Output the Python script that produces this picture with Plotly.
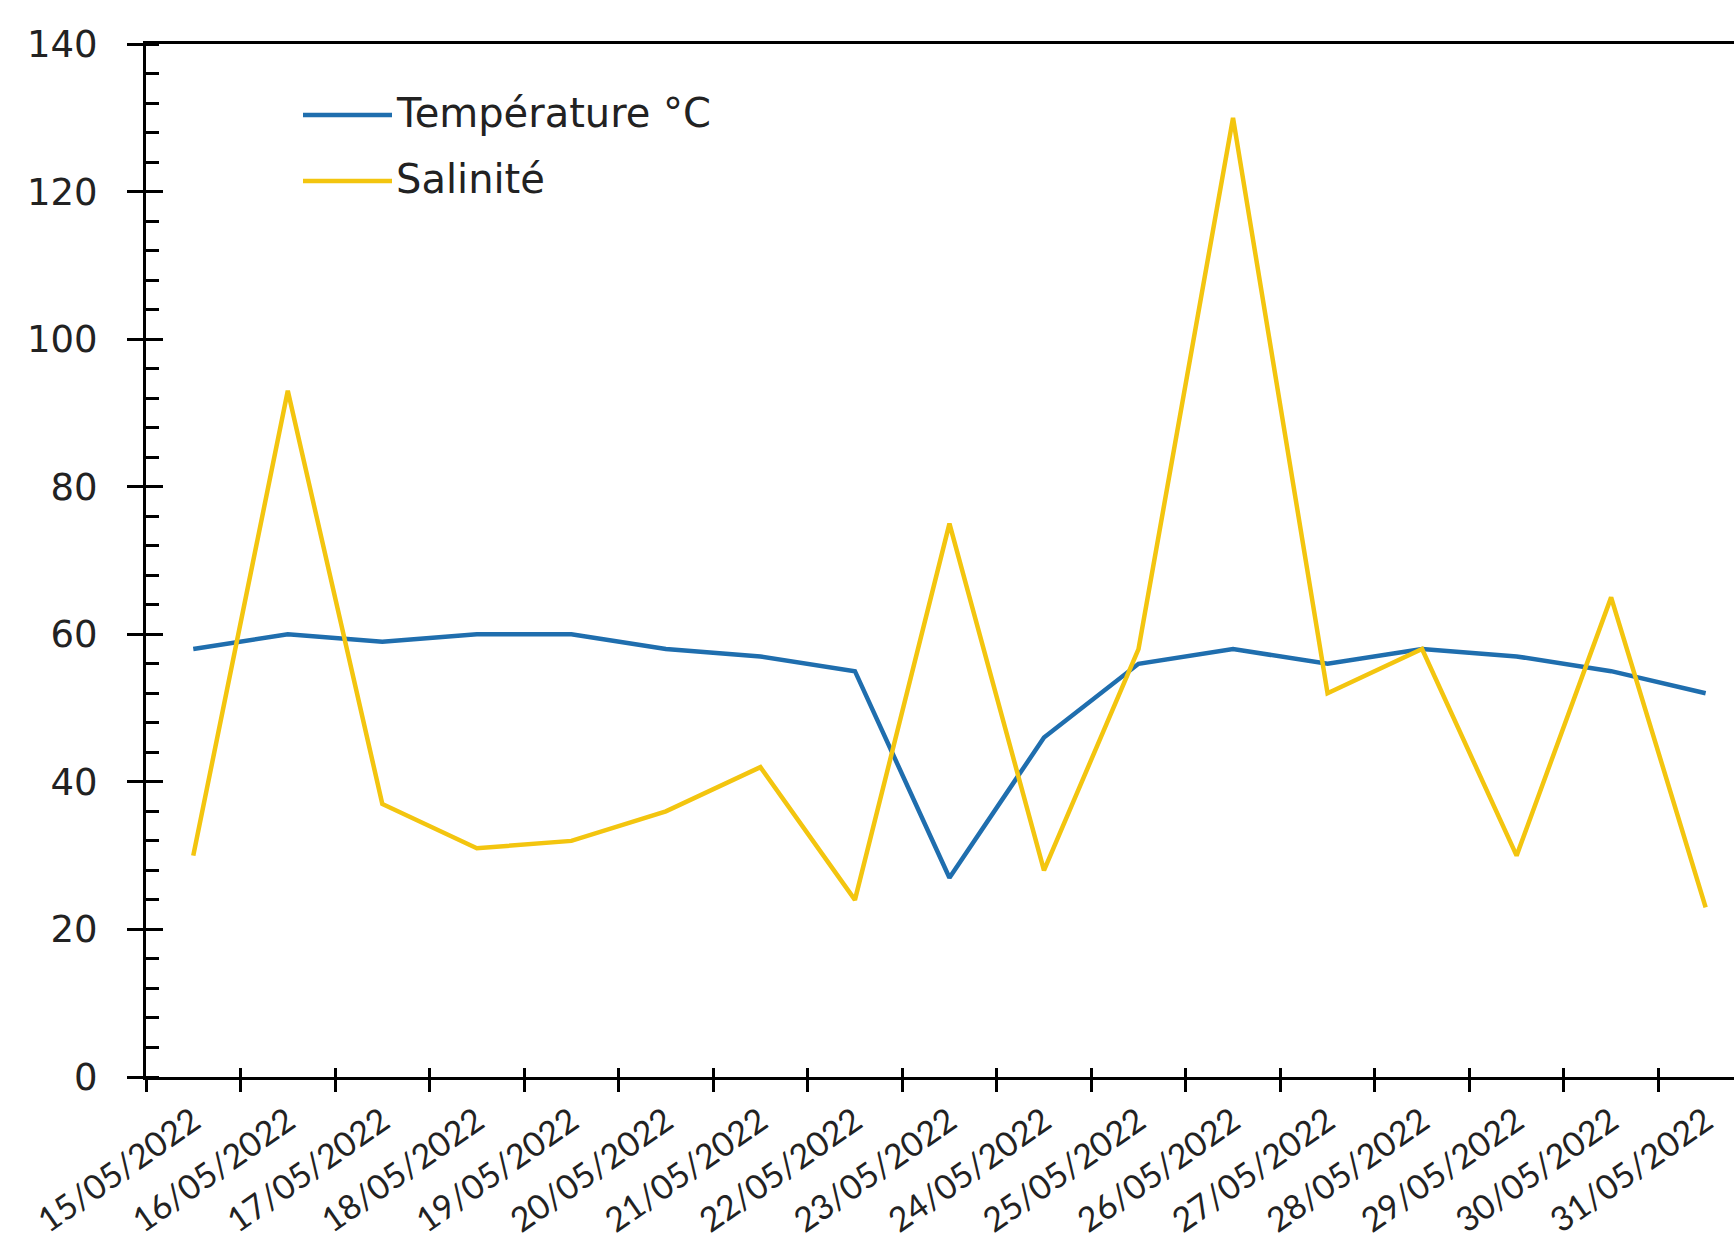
import plotly.graph_objects as go

# Daily readings, 15 to 31 May 2022
dates = ["15/05/2022", "16/05/2022", "17/05/2022", "18/05/2022", "19/05/2022",
         "20/05/2022", "21/05/2022", "22/05/2022", "23/05/2022", "24/05/2022",
         "25/05/2022", "26/05/2022", "27/05/2022", "28/05/2022", "29/05/2022",
         "30/05/2022", "31/05/2022"]
temperature = [58, 60, 59, 60, 60, 58, 57, 55, 27, 46, 56, 58, 56, 58, 57, 55, 52]
salinite = [30, 93, 37, 31, 32, 36, 42, 24, 75, 28, 58, 130, 52, 58, 30, 65, 23]

series_names = ["Température °C", "Salinité"]
series_colors = ["#1f6eae", "#f3c50f"]

W, H = 1734, 1241
ML, MR, MT, MB = 146, 0, 44, 164
X_RANGE = [-0.5, 16.3]
Y_RANGE = [0, 140]


def paper_x(px):
    return (px - ML) / (W - ML - MR)


def paper_y(py):
    return (H - MB - py) / (H - MT - MB)


fig = go.Figure()
for name, vals, col in zip(series_names, [temperature, salinite], series_colors):
    fig.add_trace(go.Scatter(x=dates, y=vals, mode="lines", name=name,
                             line=dict(color=col, width=4.5), showlegend=False))

# empty trace carrying the overlay axes (inner halves of the crossing ticks)
fig.add_trace(go.Scatter(x=[], y=[], xaxis="x2", yaxis="y2", showlegend=False,
                         hoverinfo="skip"))

fig.update_layout(
    width=W, height=H,
    margin=dict(l=ML, r=MR, t=MT, b=MB),
    paper_bgcolor="white", plot_bgcolor="white",
    xaxis=dict(type="category", categoryorder="array", categoryarray=dates,
               range=X_RANGE, tickson="boundaries", ticks="outside",
               ticklen=12, tickwidth=3, tickcolor="black",
               showline=True, linewidth=3, linecolor="black", mirror=True,
               showgrid=False, zeroline=False, tickangle=-35,
               ticklabelstandoff=8,
               tickfont=dict(family="Lato", size=34, color="#222222")),
    yaxis=dict(range=Y_RANGE, dtick=20, ticks="outside", ticklen=16,
               tickwidth=3, tickcolor="black", showline=True, linewidth=3,
               linecolor="black", showgrid=False, zeroline=False,
               ticklabelstandoff=22,
               minor=dict(dtick=4, ticks="inside", ticklen=13, tickwidth=3,
                          tickcolor="black", showgrid=False),
               tickfont=dict(family="DejaVu Sans", size=37, color="#222222")),
    xaxis2=dict(overlaying="x", anchor="y2", side="bottom", range=X_RANGE,
                tickmode="linear", tick0=-0.5, dtick=1, ticks="inside",
                ticklen=9, tickwidth=3, tickcolor="black",
                showticklabels=False, showline=False, showgrid=False,
                zeroline=False),
    yaxis2=dict(overlaying="y", anchor="x2", side="left", range=Y_RANGE,
                tickmode="linear", tick0=0, dtick=20, ticks="inside",
                ticklen=17, tickwidth=3, tickcolor="black",
                showticklabels=False, showline=False, showgrid=False,
                zeroline=False),
)

# legend drawn as line samples with labels, upper left of the plot
legend_rows = [115, 181]
for name, col, row in zip(series_names, series_colors, legend_rows):
    fig.add_shape(type="line", xref="paper", yref="paper",
                  x0=paper_x(303), x1=paper_x(392),
                  y0=paper_y(row), y1=paper_y(row),
                  line=dict(color=col, width=4.5))
    fig.add_annotation(text=name, xref="paper", yref="paper",
                       x=paper_x(394), y=paper_y(row - 2), xanchor="left",
                       yanchor="middle", showarrow=False,
                       font=dict(family="DejaVu Sans", size=40, color="#222222"))

fig.write_html("out.html")
